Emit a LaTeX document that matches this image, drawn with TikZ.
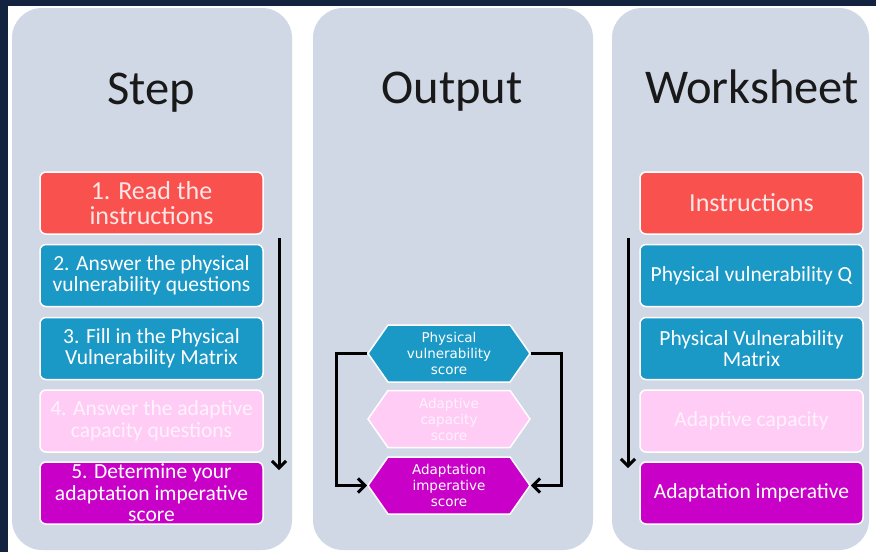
\documentclass[tikz,border=0pt]{standalone}
\usepackage{fontspec}
\setmainfont{Carlito}
\newfontfamily\hexfont{DejaVu Sans}
\usetikzlibrary{arrows.meta,shapes.symbols}
\definecolor{navy}{HTML}{12223F}
\definecolor{panel}{HTML}{D0D7E5}
\definecolor{redbox}{HTML}{F8514E}
\definecolor{redtext}{HTML}{FDE6E6}
\definecolor{bluebox}{HTML}{1A98C6}
\definecolor{pinkbox}{HTML}{FFCCF6}
\definecolor{pinktext}{HTML}{FFF2FD}
\definecolor{magbox}{HTML}{C800C8}
\tikzset{
 stepbox/.style={draw=white, line width=1.5pt, rounded corners=6pt, minimum width=223pt, minimum height=62pt, align=center, text=white, font=\fontsize{21.5}{21.5}\selectfont, inner sep=0pt},
 bigbox/.style={stepbox, text=redtext, font=\fontsize{26}{25}\selectfont},
 hexbox/.style={shape=signal, signal to=east and west, signal pointer angle=110, draw=white, line width=1.5pt, minimum width=162pt, minimum height=57pt, inner sep=0pt, text=white, align=center, font=\hexfont\fontsize{13.5}{16}\selectfont},
 coltitle/.style={font=\fontsize{48.5}{52}\selectfont, text=black!90, anchor=base, inner sep=0pt},
 flow/.style={line width=3pt, -{Straight Barb[length=7pt,width=14pt]}},
 panelbox/.style={fill=panel, rounded corners=30pt},
}
\begin{document}
\begin{tikzpicture}[x=1pt,y=-1pt]
\useasboundingbox (0,0) rectangle (876,552);
\fill[white] (0,0) rectangle (876,552);
\fill[navy] (0,0) rectangle (876,6);
\fill[navy] (0,0) rectangle (8,552);
% panels
\fill[panelbox] (12,8) rectangle (292,550);
\fill[panelbox] (313,8) rectangle (593,550);
\fill[panelbox] (612,8) rectangle (869,550);
% titles
\node[coltitle] (tstep) at (151,104) {Step};
\node[coltitle] (tout) at (452,103) {Output};
\node[coltitle] (twork) at (752,103) {Worksheet};
% step boxes
\node[bigbox, fill=redbox] (s1) at (151.5,203) {1. Read the\\instructions};
\node[stepbox, fill=bluebox] (s2) at (151.5,275.5) {2. Answer the physical\\vulnerability questions};
\node[stepbox, fill=bluebox] (s3) at (151.5,348.5) {3. Fill in the Physical\\Vulnerability Matrix};
\node[stepbox, fill=pinkbox, text=pinktext] (s4) at (151.5,421) {4. Answer the adaptive\\capacity questions};
\node[stepbox, fill=magbox] (s5) at (151.5,493) {5. Determine your\\adaptation imperative\\score};
% worksheet boxes
\node[bigbox, fill=redbox] (w1) at (751.5,203) {Instructions};
\node[stepbox, fill=bluebox] (w2) at (751.5,275.5) {Physical vulnerability Q};
\node[stepbox, fill=bluebox] (w3) at (751.5,348.5) {Physical Vulnerability\\Matrix};
\node[stepbox, fill=pinkbox, text=pinktext] (w4) at (751.5,421) {Adaptive capacity};
\node[stepbox, fill=magbox] (w5) at (751.5,493) {Adaptation imperative};
% hexagons
\node[hexbox, fill=bluebox] (h1) at (449,353.5) {Physical\\vulnerability\\score};
\node[hexbox, fill=pinkbox, text=pinktext] (h2) at (449,419) {Adaptive\\capacity\\score};
\node[hexbox, fill=magbox] (h3) at (449,485.5) {Adaptation\\imperative\\score};
% flow arrows
\coordinate (la) at (279,238);
\coordinate (lb) at (279,470);
\coordinate (ra) at (628,238);
\coordinate (rb) at (628,468);
\draw[flow] (la) -- (lb);
\draw[flow] (ra) -- (rb);
\draw[flow] (h1.west) -- ++(-31,0) |- (h3.west);
\draw[flow] (h1.east) -- ++(31,0) |- (h3.east);
\end{tikzpicture}
\end{document}
